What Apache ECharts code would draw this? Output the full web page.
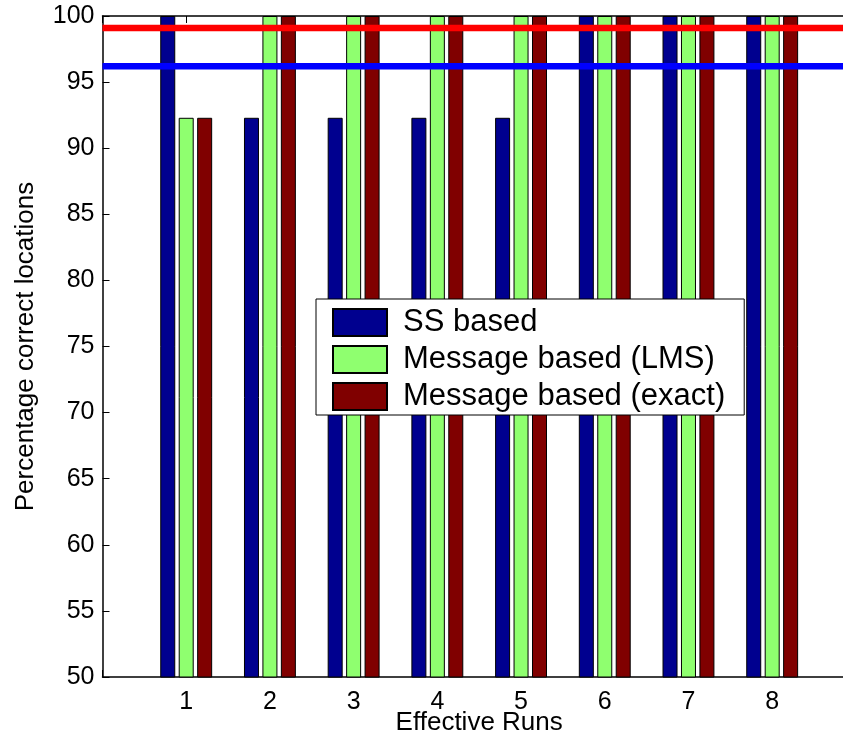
<!DOCTYPE html>
<html>
<head>
<meta charset="utf-8">
<script src="https://cdn.jsdelivr.net/npm/echarts@6/dist/echarts.min.js"></script>
<style>
html,body{margin:0;padding:0;background:#fff;}
#chart{width:843px;height:741px;}
</style>
</head>
<body>
<div id="chart"></div>
<script>
const runs = [1, 2, 3, 4, 5, 6, 7, 8];
const ssBased = [100, 92.3, 92.3, 92.3, 92.3, 100, 100, 100];
const msgLMS = [92.3, 100, 100, 100, 100, 100, 100, 100];
const msgExact = [92.3, 100, 100, 100, 100, 100, 100, 100];
const refLineRed = 99.1;
const refLineBlue = 96.2;
const seriesNames = ['SS based', 'Message based (LMS)', 'Message based (exact)'];
const yTicks = [50, 55, 60, 65, 70, 75, 80, 85, 90, 95, 100];
const xMin = 0, xMax = 9;

const FONT = "'Liberation Sans', Arial, sans-serif";
const chart = echarts.init(document.getElementById('chart'), null, {renderer: 'canvas'});

function pairs(vals) { return runs.map((r, i) => [r, vals[i]]); }
function hline(v) { return [[xMin, v], [xMax, v]]; }

const barBase = {
  type: 'bar',
  barWidth: 15,
  barGap: '23%',
  xAxisIndex: 0,
  yAxisIndex: 0,
  clip: true,
  z: 2
};

chart.setOption({
  animation: false,
  backgroundColor: '#fff',
  textStyle: {fontFamily: FONT},
  grid: {left: 102.5, top: 16, width: 753.4, height: 661, containLabel: false, outerBoundsMode: 'none'},
  legend: {
    data: seriesNames,
    orient: 'vertical',
    left: 316,
    top: 299,
    icon: 'rect',
    itemWidth: 54,
    itemHeight: 27,
    itemGap: 6,
    padding: [8, 19, 3, 16],
    backgroundColor: '#fff',
    borderColor: '#000',
    borderWidth: 1,
    borderRadius: 0,
    selectedMode: false,
    textStyle: {fontFamily: FONT, fontSize: 31, color: '#000', padding: [0, 0, 0, 11]},
    z: 10
  },
  xAxis: [
    {
      type: 'value', min: xMin, max: xMax, interval: 1, position: 'bottom',
      name: 'Effective Runs', nameLocation: 'middle', nameGap: 33, nameMoveOverlap: false,
      nameTextStyle: {fontFamily: FONT, fontSize: 26, color: '#000', verticalAlign: 'top'},
      axisLine: {show: true, onZero: false, lineStyle: {color: '#000', width: 1.5}},
      axisTick: {show: true, inside: true, length: 7, lineStyle: {color: '#000'}},
      axisLabel: {
        fontFamily: FONT, fontSize: 25, color: '#000', margin: 13,
        formatter: v => (runs.indexOf(v) >= 0 ? String(v) : '')
      },
      splitLine: {show: false}
    },
    {
      type: 'value', min: xMin, max: xMax, interval: 1, position: 'top',
      axisLine: {show: true, onZero: false, lineStyle: {color: '#000', width: 1.5}},
      axisTick: {show: true, inside: true, length: 7, lineStyle: {color: '#000'}},
      axisLabel: {show: false},
      splitLine: {show: false}
    }
  ],
  yAxis: [
    {
      type: 'value', min: yTicks[0], max: yTicks[yTicks.length - 1], interval: 5,
      name: 'Percentage correct locations', nameLocation: 'middle', nameGap: 64, nameMoveOverlap: false,
      nameTextStyle: {fontFamily: FONT, fontSize: 26, color: '#000'},
      axisLine: {show: true, onZero: false, lineStyle: {color: '#000', width: 1.5}},
      axisTick: {show: true, inside: true, length: 7, lineStyle: {color: '#000'}},
      axisLabel: {fontFamily: FONT, fontSize: 25, color: '#000', margin: 8},
      splitLine: {show: false}
    }
  ],
  series: [
    Object.assign({}, barBase, {
      name: seriesNames[0], data: pairs(ssBased),
      itemStyle: {color: '#00008f', borderColor: '#000', borderWidth: 1}
    }),
    Object.assign({}, barBase, {
      name: seriesNames[1], data: pairs(msgLMS),
      itemStyle: {color: '#8fff6f', borderColor: '#000', borderWidth: 1}
    }),
    Object.assign({}, barBase, {
      name: seriesNames[2], data: pairs(msgExact),
      itemStyle: {color: '#800000', borderColor: '#000', borderWidth: 1}
    }),
    {
      type: 'line', name: 'refRed', data: hline(refLineRed), symbol: 'none',
      lineStyle: {color: '#ff0000', width: 6.5}, z: 5, silent: true
    },
    {
      type: 'line', name: 'refBlue', data: hline(refLineBlue), symbol: 'none',
      lineStyle: {color: '#0000ff', width: 6.5}, z: 5, silent: true
    }
  ]
});
</script>
</body>
</html>
